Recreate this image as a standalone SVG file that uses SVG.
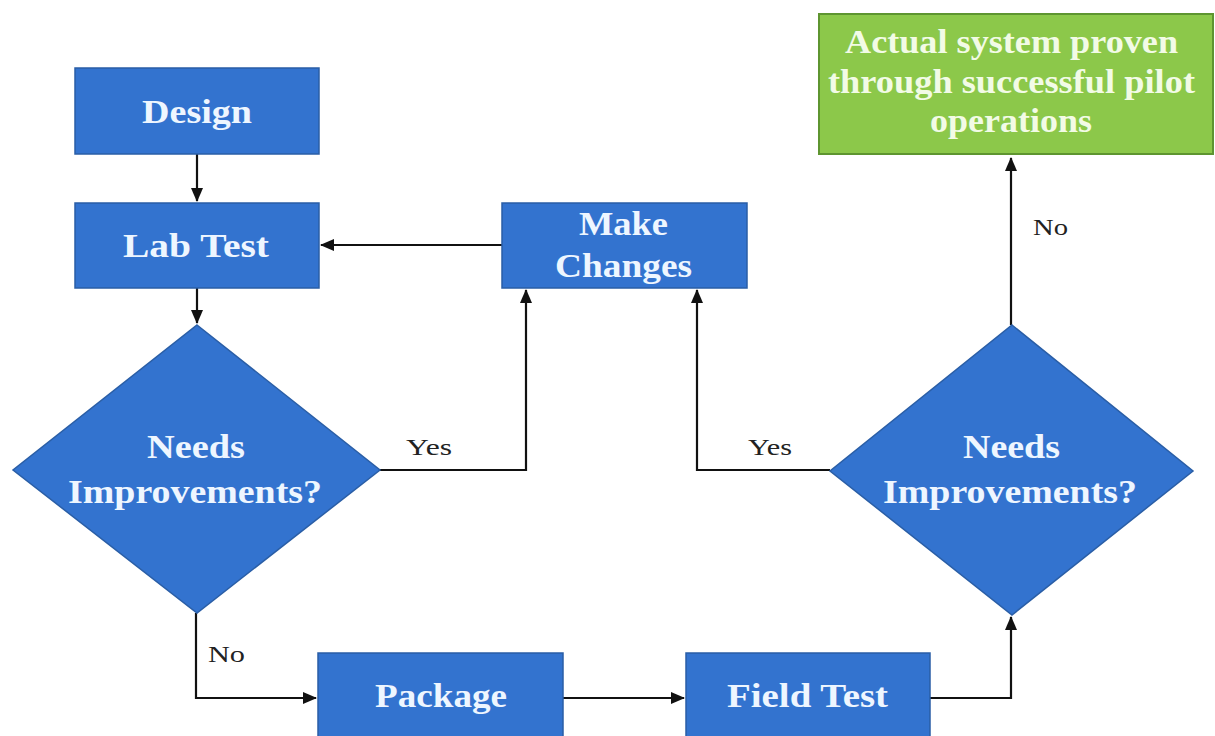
<svg xmlns="http://www.w3.org/2000/svg" width="1215" height="736" viewBox="0 0 1215 736">
  <defs>
    <marker id="arrow" viewBox="0 0 14 12" refX="13" refY="6" markerWidth="14" markerHeight="12" markerUnits="userSpaceOnUse" orient="auto">
      <path d="M0,0 L14,6 L0,12 Z" fill="#111"/>
    </marker>
    <style>
      .box { fill: #3373CF; stroke: #2A5EA6; stroke-width: 1.5; }
      .green { fill: #8CC84A; stroke: #5E9530; stroke-width: 2; }
      .t { font-family: "Liberation Serif", "Times New Roman", serif; font-weight: bold; font-size: 33px; fill: #EEF6FF; }
      .tg { fill: #F2FBE6; }
      .lbl { font-family: "Liberation Serif", "Times New Roman", serif; font-size: 24px; fill: #222; }
      .conn { fill: none; stroke: #111; stroke-width: 2.2; }
    </style>
  </defs>
  <rect width="1215" height="736" fill="#FFFFFF"/>

  <!-- flow lines and their branch labels -->
  <g id="connectors">
    <path class="conn" d="M197,154 V201" marker-end="url(#arrow)"/>
    <path class="conn" d="M197,288 V323" marker-end="url(#arrow)"/>
    <path class="conn" d="M502,245 H321" marker-end="url(#arrow)"/>
    <path class="conn" d="M378,470 H526 V290" marker-end="url(#arrow)"/>
    <path class="conn" d="M830,470 H697 V290" marker-end="url(#arrow)"/>
    <path class="conn" d="M196,613 V698 H316" marker-end="url(#arrow)"/>
    <path class="conn" d="M563,698 H684" marker-end="url(#arrow)"/>
    <path class="conn" d="M930,698 H1011 V617" marker-end="url(#arrow)"/>
    <path class="conn" d="M1011,325 V158" marker-end="url(#arrow)"/>
    <text class="lbl" x="406" y="455" textLength="46" lengthAdjust="spacingAndGlyphs">Yes</text>
    <text class="lbl" x="748" y="455" textLength="44" lengthAdjust="spacingAndGlyphs">Yes</text>
    <text class="lbl" x="1033" y="235" textLength="35" lengthAdjust="spacingAndGlyphs">No</text>
    <text class="lbl" x="208" y="662" textLength="37" lengthAdjust="spacingAndGlyphs">No</text>
  </g>

  <g id="design">
    <rect class="box" x="75" y="68" width="244" height="86"/>
    <text class="t" x="142" y="123" textLength="110" lengthAdjust="spacingAndGlyphs">Design</text>
  </g>

  <g id="lab-test">
    <rect class="box" x="75" y="203" width="244" height="85"/>
    <text class="t" x="123" y="257" textLength="146" lengthAdjust="spacingAndGlyphs">Lab Test</text>
  </g>

  <g id="make-changes">
    <rect class="box" x="502" y="203" width="245" height="85"/>
    <text class="t" x="579" y="235" textLength="89" lengthAdjust="spacingAndGlyphs">Make</text>
    <text class="t" x="555" y="277" textLength="137" lengthAdjust="spacingAndGlyphs">Changes</text>
  </g>

  <g id="decision-lab">
    <polygon class="box" points="197,325 380,470 197,613 13,470"/>
    <text class="t" x="147" y="458" textLength="98" lengthAdjust="spacingAndGlyphs">Needs</text>
    <text class="t" x="68" y="503" textLength="254" lengthAdjust="spacingAndGlyphs">Improvements?</text>
  </g>

  <g id="decision-field">
    <polygon class="box" points="1012,325 1193,471 1012,615 830,471"/>
    <text class="t" x="963" y="458" textLength="97" lengthAdjust="spacingAndGlyphs">Needs</text>
    <text class="t" x="883" y="503" textLength="254" lengthAdjust="spacingAndGlyphs">Improvements?</text>
  </g>

  <g id="package">
    <rect class="box" x="318" y="653" width="245" height="90"/>
    <text class="t" x="375" y="707" textLength="132" lengthAdjust="spacingAndGlyphs">Package</text>
  </g>

  <g id="field-test">
    <rect class="box" x="686" y="653" width="244" height="90"/>
    <text class="t" x="727" y="707" textLength="161" lengthAdjust="spacingAndGlyphs">Field Test</text>
  </g>

  <g id="proven">
    <rect class="green" x="819" y="14" width="394" height="140"/>
    <text class="t tg" x="845" y="53" textLength="333" lengthAdjust="spacingAndGlyphs">Actual system proven</text>
    <text class="t tg" x="828" y="93" textLength="367" lengthAdjust="spacingAndGlyphs">through successful pilot</text>
    <text class="t tg" x="930" y="132" textLength="162" lengthAdjust="spacingAndGlyphs">operations</text>
  </g>
</svg>
